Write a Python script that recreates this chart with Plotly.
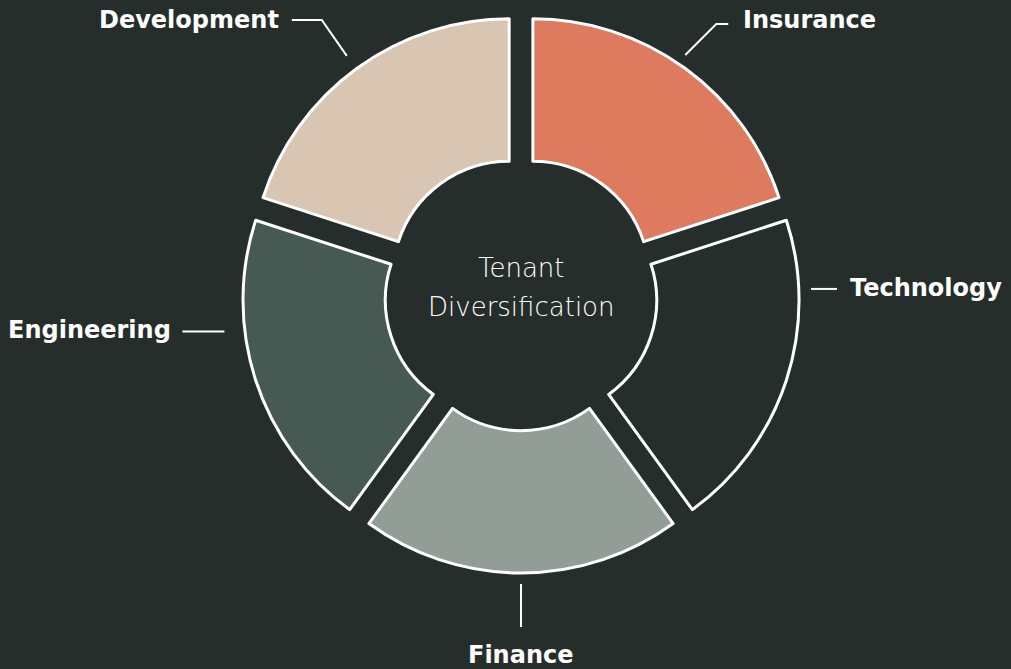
import math
import plotly.graph_objects as go

# ---- data ----
categories = ["Insurance", "Technology", "Finance", "Engineering", "Development"]
values = [20, 20, 20, 20, 20]
colors = ["#DE7A5E", "#262E2B", "#939D98", "#465A53", "#D8C6B2"]
center_lines = ["Tenant", "Diversification"]

# ---- layout geometry ----
W, H = 1011, 669
BG = "#262E2B"
DOM_X = [0.15, 0.8807]
DOM_Y = [0.1435, 0.9776]
PULL = 0.078
HOLE = 0.45
LABEL_FONT = "DejaVu Sans, Inter, sans-serif"

# pie geometry following plotly's own scaling rules
box_w = W * (DOM_X[1] - DOM_X[0])
box_h = H * (DOM_Y[1] - DOM_Y[0])
R = min(box_w, box_h) / (2 + 2 * PULL)
CX = W * (DOM_X[0] + DOM_X[1]) / 2
CY = H * (1 - DOM_Y[0]) - box_h / 2

# leader style per label: start angle (deg, clockwise from top), start distance
# beyond pulled outer edge, segments (px offsets), text anchor offset, anchors
leaders = {
    "Development": (-36.2, 16, [(-25, -36), (-30, 0)], (-11, 0), "right", "middle"),
    "Insurance": (34.5, 11, [(31, -31), (12, 0)], (13, -4), "left", "middle"),
    "Technology": (89.0, 11, [(26, 0)], (11, -1), "left", "middle"),
    "Engineering": (262.8, 20, [(-42, 0)], (-9, -1), "right", "middle"),
    "Finance": (180.0, 11, [(0, 43)], (0, 28), "center", "middle"),
}
center_offsets = [-26, 13]


def px2paper(x, y):
    return x / W, 1 - y / H


fig = go.Figure(
    go.Pie(
        labels=categories,
        values=values,
        sort=False,
        direction="clockwise",
        rotation=0,
        hole=HOLE,
        pull=[PULL] * len(values),
        marker=dict(colors=colors, line=dict(color="#FFFFFF", width=3)),
        textinfo="none",
        hoverinfo="label+percent",
        showlegend=False,
        domain=dict(x=DOM_X, y=DOM_Y),
    )
)

shapes = []
annotations = []
for name in categories:
    ang, gap, segs, toff, xa, ya = leaders[name]
    rho = R * (1 + PULL) + gap
    a = math.radians(ang)
    x0 = CX + rho * math.sin(a)
    y0 = CY - rho * math.cos(a)
    pts = [(x0, y0)]
    for dx, dy in segs:
        pts.append((pts[-1][0] + dx, pts[-1][1] + dy))
    path = ""
    for i, (x, y) in enumerate(pts):
        px, py = px2paper(x, y)
        path += ("M" if i == 0 else " L") + f" {px:.5f} {py:.5f}"
    shapes.append(dict(type="path", xref="paper", yref="paper", path=path,
                       line=dict(color="#FFFFFF", width=2)))
    tx, ty = pts[-1][0] + toff[0], pts[-1][1] + toff[1]
    ptx, pty = px2paper(tx, ty)
    annotations.append(dict(x=ptx, y=pty, xref="paper", yref="paper", text=name,
                            showarrow=False, xanchor=xa, yanchor=ya,
                            font=dict(family=LABEL_FONT, size=24,
                                      color="#FFFFFF", weight="bold")))

for line, off in zip(center_lines, center_offsets):
    ptx, pty = px2paper(CX, CY + off)
    annotations.append(dict(x=ptx, y=pty, xref="paper", yref="paper", text=line,
                            showarrow=False, xanchor="center", yanchor="middle",
                            font=dict(family=LABEL_FONT, size=26,
                                      color="#FFFFFF", weight=200)))

fig.update_layout(
    width=W, height=H, autosize=False,
    margin=dict(l=0, r=0, t=0, b=0),
    paper_bgcolor=BG, plot_bgcolor=BG,
    shapes=shapes, annotations=annotations,
)

fig.write_html(
    "out.html",
    config={"displayModeBar": False},
    post_script="document.body.style.margin='0';document.body.style.background='%s';" % BG,
)
